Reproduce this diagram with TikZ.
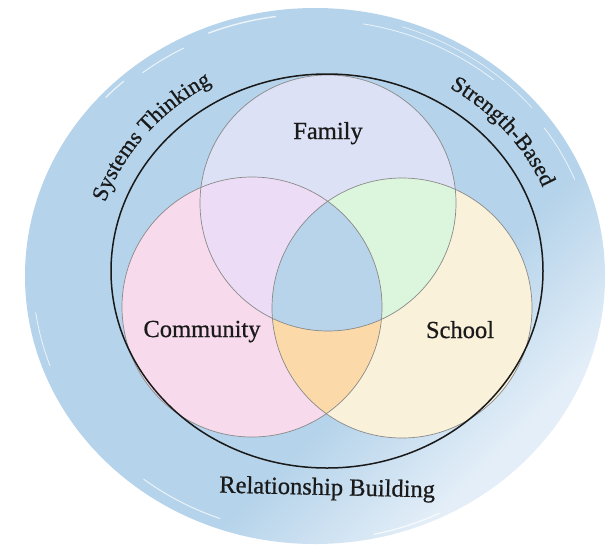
\documentclass[tikz,border=0pt]{standalone}
\usepackage{fontspec}
\setmainfont{Liberation Serif}
\newfontfamily\lblfamily{Liberation Serif}[FakeBold=0.7]
\usetikzlibrary{decorations.text}
\definecolor{bgblue}{HTML}{B5D3EA}
\definecolor{bgpale}{HTML}{E3EEF8}
\definecolor{famfill}{HTML}{DDE1F6}
\definecolor{comfill}{HTML}{F7DBEC}
\definecolor{schfill}{HTML}{FAF1DA}
\definecolor{fcfill}{HTML}{EDDCF6}
\definecolor{fsfill}{HTML}{DCF5DD}
\definecolor{csfill}{HTML}{FBD9A9}
\definecolor{allfill}{HTML}{B8D4EA}
\definecolor{ring}{HTML}{8A8A8A}
\definecolor{txt}{HTML}{1A1A1A}
\pgfdeclareverticalshading{blobshade}{100bp}{color(0bp)=(bgpale); color(27bp)=(bgpale); color(40bp)=(bgblue); color(100bp)=(bgblue)}
\newcommand{\arcfont}{\lblfamily\fontsize{22.5}{26}\selectfont\color{txt}}
\begin{document}
\begin{tikzpicture}[x=1pt,y=1pt,
  lbl/.style={font=\lblfamily\fontsize{24.5}{28}\selectfont, text=txt, inner sep=0pt},
  circ/.style={draw=ring, line width=0.7pt},
  streak/.style={white, opacity=.75, line cap=round}]
\useasboundingbox (0,0) rectangle (615,-547);
\fill[white] (0,0) rectangle (615,-547);
% outer blob
\shade[shading=blobshade, shading angle=45] (315,-276) ellipse[x radius=290, y radius=268];
% brush streaks
\draw[streak, line width=1.4pt] (315,-276) ++(98:284 and 262) arc[start angle=98, end angle=112, x radius=284, y radius=262];
\draw[streak, line width=1pt] (315,-276) ++(118:280 and 258) arc[start angle=118, end angle=128, x radius=280, y radius=258];
\draw[streak, line width=1.2pt] (315,-276) ++(132:286 and 262) arc[start angle=132, end angle=137, x radius=286, y radius=262];
\draw[streak, line width=0.8pt] (315,-276) ++(80:278 and 256) arc[start angle=80, end angle=50, x radius=278, y radius=256];
\draw[streak, line width=0.6pt] (315,-276) ++(72:283 and 262) arc[start angle=72, end angle=40, x radius=283, y radius=262];
\draw[streak, line width=0.8pt] (315,-276) ++(35:280 and 258) arc[start angle=35, end angle=22, x radius=280, y radius=258];
\draw[streak, line width=0.8pt] (315,-276) ++(188:282 and 262) arc[start angle=188, end angle=200, x radius=282, y radius=262];
\draw[streak, line width=1pt] (315,-276) ++(232:278 and 258) arc[start angle=232, end angle=250, x radius=278, y radius=258];
\draw[streak, line width=1.2pt] (315,-276) ++(282:284 and 264) arc[start angle=282, end angle=296, x radius=284, y radius=264];
% circle centres
\coordinate (fc) at (328,-203);
\coordinate (cc) at (252,-307);
\coordinate (sc) at (402,-308);
% fills
\fill[famfill] (fc) circle[radius=128];
\fill[comfill] (cc) circle[radius=130];
\fill[schfill] (sc) circle[radius=130];
\begin{scope}
  \clip (fc) circle[radius=128];
  \fill[fcfill] (cc) circle[radius=130];
  \fill[fsfill] (sc) circle[radius=130];
\end{scope}
\begin{scope}
  \clip (cc) circle[radius=130];
  \fill[csfill] (sc) circle[radius=130];
\end{scope}
\begin{scope}
  \clip (fc) circle[radius=128];
  \clip (cc) circle[radius=130];
  \fill[allfill] (sc) circle[radius=130];
\end{scope}
\draw[circ] (fc) circle[radius=128];
\draw[circ] (cc) circle[radius=130];
\draw[circ] (sc) circle[radius=130];
% black ring
\draw[line width=1.5pt, black!90] (327,-271) ellipse[x radius=216, y radius=197];
% labels
\node[lbl, anchor=base] (family) at (328,-139) {Family};
\node[lbl, anchor=base] (community) at (202,-337) {Community};
\node[lbl, anchor=base] (school) at (460,-338) {School};
\node[lbl, anchor=base, rotate=-1.3] (relbuild) at (327,-495) {Relationship Building};
% curved labels
\path[decorate, decoration={text along path, text align=center,
  text={|\arcfont|Systems Thinking}}]
  (327,-271) ++(178:234 and 215) arc[start angle=178, end angle=104, x radius=234, y radius=215];
\path[decorate, decoration={text along path, text align=center,
  text={|\arcfont|Strength-Based}}]
  (327,-271) ++(76:234 and 215) arc[start angle=76, end angle=4, x radius=234, y radius=215];
\end{tikzpicture}
\end{document}
